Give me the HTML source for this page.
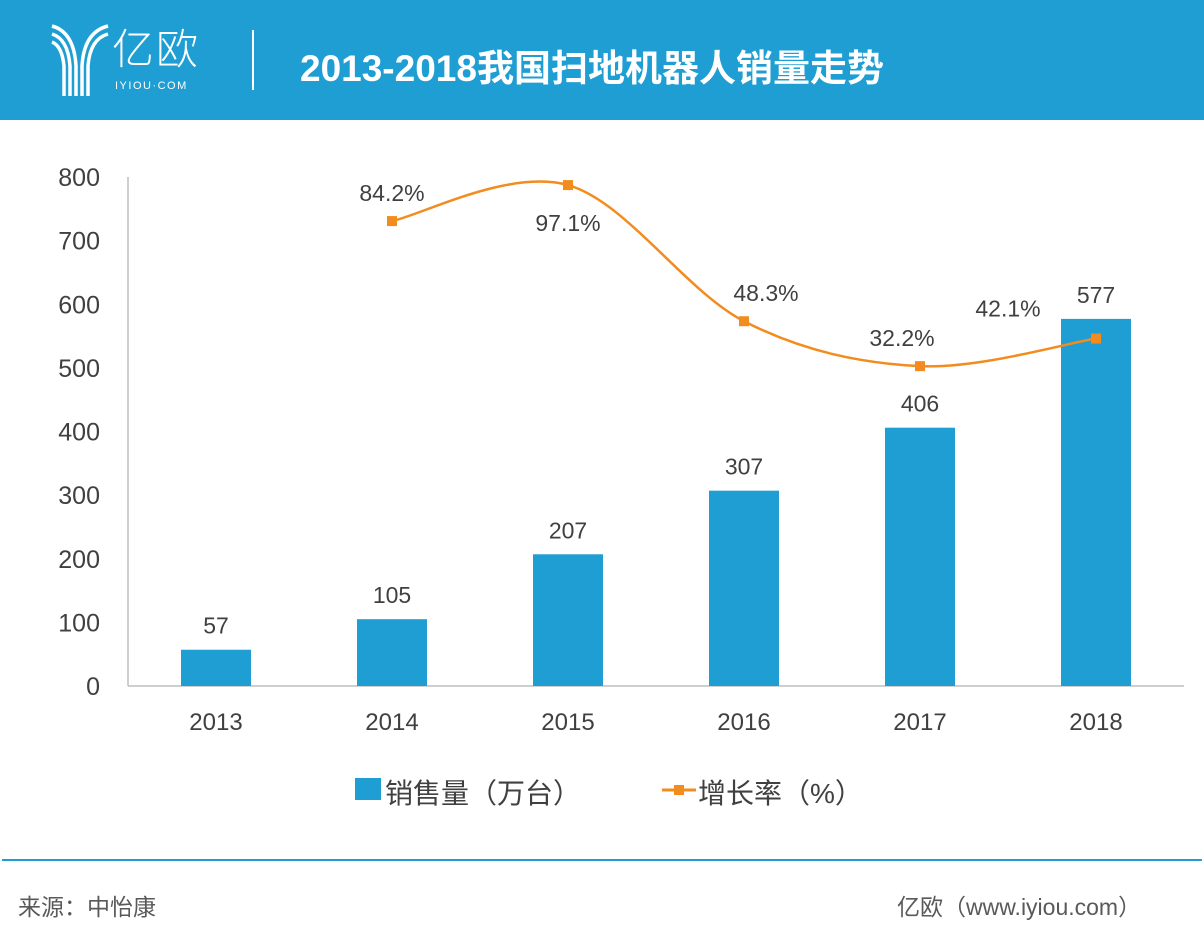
<!DOCTYPE html>
<html><head><meta charset="utf-8">
<style>
body{margin:0;width:1204px;height:940px;background:#fff;font-family:"Liberation Sans","Noto Sans CJK SC",sans-serif;overflow:hidden;position:relative}
#hdr{position:absolute;left:0;top:0;width:1204px;height:120px;background:#1e9ed3}
.t{position:absolute;white-space:nowrap}
</style></head><body>
<div id="hdr">
<svg class="t" style="left:48px;top:22px" width="62" height="74">
<g fill="none" stroke="#fff" stroke-width="3.5">
<path d="M4 4 Q26 10 28 44 V74"/><path d="M4 12 Q20 17 22 44 V74"/><path d="M4 20 Q14 24 16 44 V74"/>
<path d="M60 4 Q36 10 34 44 V74"/><path d="M60 12 Q42 17 40 44 V74"/>
</g></svg>
<div class="t" style="left:112px;top:24px;color:#fff;font-size:42px;font-weight:300;letter-spacing:2px;line-height:52px">亿欧</div>
<div class="t" style="left:115px;top:80px;color:#fff;font-size:11px;letter-spacing:1.5px">IYIOU·COM</div>
<div class="t" style="left:252px;top:30px;width:2px;height:60px;background:#fff"></div>
<div class="t" style="left:300px;top:38px;color:#fff;font-size:37px;font-weight:bold">2013-2018我国扫地机器人销量走势</div>
</div>
<svg id="chart" class="t" style="left:0;top:120px" width="1204" height="740"></svg>
<div class="t" style="left:355px;top:778px;width:26px;height:22px;background:#1e9ed3"></div>
<div class="t" style="left:385px;top:772px;font-size:28px;color:#404040">销售量（万台）</div>
<svg class="t" style="left:662px;top:780px" width="34" height="20"><line x1="0" y1="10" x2="34" y2="10" stroke="#f28c1e" stroke-width="3"/><rect x="12" y="5" width="10" height="10" fill="#f28c1e"/></svg>
<div class="t" style="left:698px;top:772px;font-size:28px;color:#404040">增长率（%）</div>
<div class="t" style="left:2px;top:859px;width:1200px;height:2px;background:#1e9ed3"></div>
<div class="t" style="left:18px;top:888px;font-size:23px;color:#595959">来源：中怡康</div>
<div class="t" style="left:897px;top:888px;font-size:23px;color:#595959">亿欧（www.iyiou.com）</div>
<script>
const categories=["2013","2014","2015","2016","2017","2018"];
const sales=[57,105,207,307,406,577];
const growth=[null,84.2,97.1,48.3,32.2,42.1];
const growthLabels=["","84.2%","97.1%","48.3%","32.2%","42.1%"];
const yTicks=[0,100,200,300,400,500,600,700,800];
(function(){
const svg=document.getElementById('chart');const NS='http://www.w3.org/2000/svg';
const x0=128,x1=1184,base=566,ptop=57;
const y=v=>base-(v/800)*(base-ptop);
const y2=v=>336-(v/100)*(336-57);
const step=(x1-x0)/categories.length;
const xc=i=>x0+step*(i+0.5);
function mk(t,a){const e=document.createElementNS(NS,t);for(const k in a)e.setAttribute(k,a[k]);svg.appendChild(e);return e;}
let e;
yTicks.forEach(v=>{e=mk('text',{x:100,y:y(v)+9,'text-anchor':'end','font-size':25,fill:'#404040'});e.textContent=v;

});
e=mk('line',{x1:x0,y1:ptop,x2:x0,y2:base,stroke:'#bfbfbf','stroke-width':1.5});


e=mk('line',{x1:x0,y1:base,x2:x1,y2:base,stroke:'#bfbfbf','stroke-width':1.5});


categories.forEach((c,i)=>{
e=mk('rect',{x:xc(i)-35,y:y(sales[i]),width:70,height:base-y(sales[i]),fill:'#1e9ed3'});


e=mk('text',{x:xc(i),y:y(sales[i])-16,'text-anchor':'middle','font-size':23,fill:'#404040'});e.textContent=sales[i];


e=mk('text',{x:xc(i),y:610,'text-anchor':'middle','font-size':24,fill:'#404040'});e.textContent=c;


});
const pts=[];growth.forEach((g,i)=>{if(g!=null)pts.push([xc(i),y2(g),i]);});
let d='M'+pts[0][0]+' '+pts[0][1];
for(let k=0;k<pts.length-1;k++){const p0=pts[Math.max(k-1,0)],p1=pts[k],p2=pts[k+1],p3=pts[Math.min(k+2,pts.length-1)];
d+=` C${p1[0]+(p2[0]-p0[0])/6} ${p1[1]+(p2[1]-p0[1])/6} ${p2[0]-(p3[0]-p1[0])/6} ${p2[1]-(p3[1]-p1[1])/6} ${p2[0]} ${p2[1]}`;}
e=mk('path',{d:d,fill:'none',stroke:'#f28c1e','stroke-width':2.5});


const off=[[0,-20],[0,46],[22,-20],[-18,-20],[-88,-22]];
pts.forEach((p,k)=>{const i=p[2];
e=mk('rect',{x:p[0]-5,y:p[1]-5,width:10,height:10,fill:'#f28c1e'});


e=mk('text',{x:p[0]+off[k][0],y:p[1]+off[k][1],'text-anchor':'middle','font-size':23,fill:'#404040'});e.textContent=growthLabels[i];


});
})();
</script>
</body></html>
